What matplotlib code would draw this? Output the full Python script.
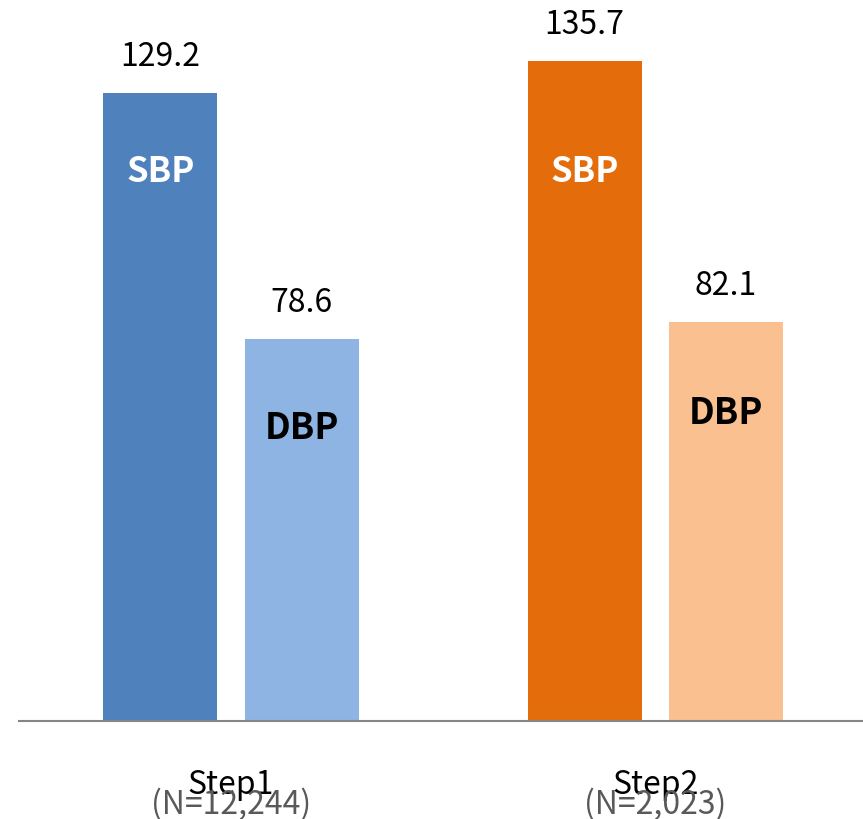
import matplotlib
matplotlib.use("Agg")
import matplotlib.pyplot as plt
import numpy as np

plt.rcParams['font.family'] = ['Noto Sans CJK KR', 'DejaVu Sans']

steps = ["Step1", "Step2"]
counts = ["(N=12,244)", "(N=2,023)"]
sbp = [129.2, 135.7]
dbp = [78.6, 82.1]
sbp_colors = ["#4F81BD", "#E46C0A"]
dbp_colors = ["#8EB4E3", "#FAC090"]
sbp_label_colors = ["white", "white"]
dbp_label_colors = ["black", "black"]

fig = plt.figure(figsize=(8.63, 8.20), dpi=100)
ax = fig.add_axes([19/863, 1 - 722/820, 1 - 19/863, 722/820])

x = np.arange(len(steps))
w = 0.269
off = 0.1665
ax.bar(x - off, sbp, w, color=sbp_colors)
ax.bar(x + off, dbp, w, color=dbp_colors)

for i in range(len(steps)):
    for xv, v in ((x[i] - off, sbp[i]), (x[i] + off, dbp[i])):
        ax.annotate(f"{v:.1f}", (xv, v), xytext=(0, 26.5), textcoords="offset points",
                    ha="center", va="center", fontsize=23, color="black")
    ax.annotate("SBP", (x[i] - off, sbp[i]), xytext=(0, -56 - (i * 23)), textcoords="offset points",
                ha="center", va="center", fontsize=25, fontweight="bold", color=sbp_label_colors[i])
    ax.annotate("DBP", (x[i] + off, dbp[i]), xytext=(0, -64 - (i * 1.5)), textcoords="offset points",
                ha="center", va="center", fontsize=26, fontweight="bold", color=dbp_label_colors[i])
    ax.text(x[i], -13.0, steps[i], ha="center", va="center", fontsize=23, color="black")
    ax.text(x[i], -16.9, counts[i], ha="center", va="center", fontsize=23, color="#595959")

ax.set_xlim(-0.5, 1.49)
ax.set_ylim(0, 148.5)
for s in ("top", "right", "left"):
    ax.spines[s].set_visible(False)
ax.spines["bottom"].set_color("#868686")
ax.spines["bottom"].set_linewidth(1.5)
ax.set_xticks([])
ax.set_yticks([])
ax.patch.set_alpha(0)

fig.savefig("out.png", dpi=100)
